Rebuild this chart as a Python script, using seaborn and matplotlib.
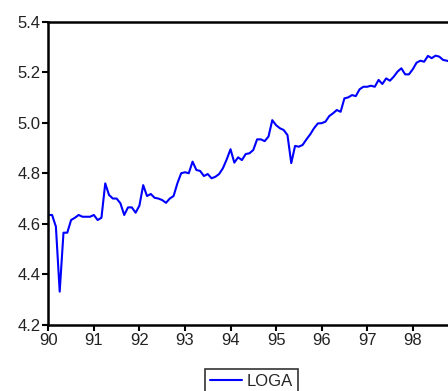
import numpy as np
import pandas as pd
import matplotlib
matplotlib.use("Agg")
import matplotlib.pyplot as plt
import seaborn as sns
from matplotlib.lines import Line2D

# Monthly LOGA values, 1990:01 onward
loga = [
    4.635, 4.635, 4.589, 4.332, 4.565, 4.565, 4.615, 4.624, 4.635, 4.628, 4.628, 4.628,   # 1990
    4.635, 4.615, 4.624, 4.760, 4.714, 4.700, 4.700, 4.681, 4.635, 4.665, 4.665, 4.644,   # 1991
    4.672, 4.753, 4.710, 4.718, 4.703, 4.700, 4.694, 4.683, 4.700, 4.710, 4.760, 4.800,   # 1992
    4.804, 4.800, 4.846, 4.813, 4.809, 4.789, 4.797, 4.780, 4.786, 4.797, 4.820, 4.855,   # 1993
    4.895, 4.842, 4.863, 4.852, 4.876, 4.879, 4.892, 4.934, 4.934, 4.927, 4.945, 5.010,   # 1994
    4.990, 4.978, 4.971, 4.951, 4.840, 4.908, 4.905, 4.912, 4.934, 4.954, 4.978, 4.997,   # 1995
    4.998, 5.004, 5.026, 5.037, 5.050, 5.043, 5.096, 5.100, 5.109, 5.105, 5.132, 5.142,   # 1996
    5.142, 5.146, 5.142, 5.169, 5.153, 5.175, 5.166, 5.182, 5.202, 5.215, 5.191, 5.191,   # 1997
    5.211, 5.237, 5.245, 5.241, 5.264, 5.255, 5.265, 5.261, 5.248, 5.245, 5.240,         # 1998
]
start_year = 90
series_name = "LOGA"
x_ticks = [90, 91, 92, 93, 94, 95, 96, 97, 98]
y_ticks = [4.2, 4.4, 4.6, 4.8, 5.0, 5.2, 5.4]

t = start_year + np.arange(len(loga)) / 12.0
df = pd.DataFrame({"t": t, "value": loga, "series": series_name})

sns.set_style("white")
plt.rcParams["font.family"] = ["Liberation Sans", "DejaVu Sans"]

W, H = 448, 391
fig = plt.figure(figsize=(W / 100, H / 100), dpi=100)
ax = fig.add_axes([48.3 / W, 1 - 325 / H, 410 / W, 303.5 / H])

sns.lineplot(data=df, x="t", y="value", hue="series", palette=["#0000ff"],
             linewidth=1.5, ax=ax, legend=False)

ax.set_xlim(90, 99)
ax.set_ylim(4.2, 5.4)
ax.set_xticks(x_ticks)
ax.set_xticklabels([str(v) for v in x_ticks])
ax.set_yticks(y_ticks)
ax.set_yticklabels([f"{v:.1f}" for v in y_ticks])
ax.set_xlabel("")
ax.set_ylabel("")
for s in ax.spines.values():
    s.set_color("black")
    s.set_linewidth(1.8)
ax.tick_params(axis="both", which="major", direction="out", length=4.5, width=1.5,
               color="black", labelsize=12, labelcolor="#222222", pad=1,
               bottom=True, left=True, top=False, right=False)

handle = Line2D([], [], color="#0000ff", linewidth=1.5)
leg = fig.legend([handle], [series_name], loc="upper center",
                 bbox_to_anchor=(251.5 / W, 1 - 369 / H), frameon=True,
                 fancybox=False, fontsize=12, handlelength=1.9,
                 borderpad=0.3, handletextpad=0.3, borderaxespad=0)
leg.get_frame().set_edgecolor("black")
leg.get_frame().set_linewidth(1.2)

fig.savefig("out.png", dpi=100)
